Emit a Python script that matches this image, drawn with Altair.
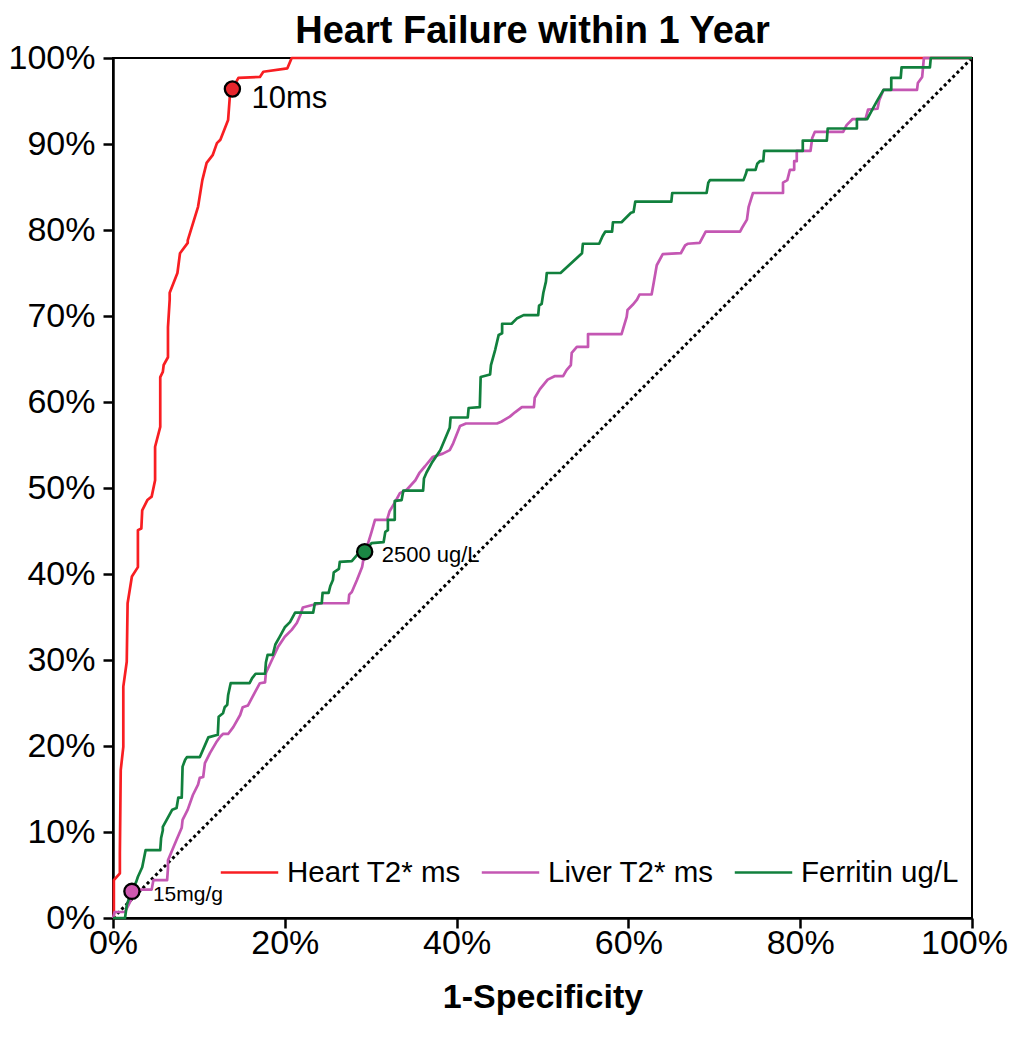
import altair as alt
import pandas as pd

# ---------------- data ----------------
series_names = ["Heart T2* ms", "Liver T2* ms", "Ferritin ug/L"]
series_colors = ["#f81e22", "#c457b3", "#11803d"]

heart_x = [0, 0.1, 0.1, 0.8, 0.8, 0.9, 1.2, 1.2, 1.6, 1.7, 2.2, 2.9, 2.9, 3.3, 3.4,
           4.0, 4.5, 4.9, 4.9, 5.5, 5.5, 5.8, 5.9, 6.4, 6.4, 6.6, 6.6, 7.5, 7.8, 8.7,
           8.7, 9.9, 10.4, 10.9, 11.6, 12.1, 12.5, 13.4, 13.6, 13.9, 14.6, 17.1, 17.5,
           20.3, 20.8, 100]
heart_y = [0, 0, 4.4, 5.2, 7.6, 17.2, 19.9, 26.9, 29.8, 36.6, 39.7, 40.8, 45.1, 45.3,
           47.4, 48.6, 49.0, 50.9, 54.8, 57.1, 62.9, 63.5, 64.3, 65.2, 68.7, 71.9, 72.7,
           75.0, 77.3, 78.5, 78.8, 82.7, 85.8, 87.8, 88.7, 90.1, 90.5, 92.8, 95.5, 96.4,
           97.7, 97.8, 98.4, 98.8, 100, 100]

liver_x = [0, 0.2, 1.4, 2.0, 2.6, 3.1, 4.5, 4.7, 6.3, 6.4, 6.4, 6.9, 7.4, 8.0, 8.1,
           8.7, 9.3, 9.9, 10.1, 10.5, 10.7, 11.3, 12.0, 12.5, 12.8, 13.4, 14.0, 14.8,
           15.1, 15.7, 16.5, 17.1, 17.7, 17.8, 18.5, 19.2, 20.0, 20.8, 21.4, 21.8, 22.1,
           23.2, 24.3, 27.4, 27.5, 27.8, 28.4, 29.0, 29.1, 29.3, 29.7, 30.1, 30.5, 31.9,
           32.2, 32.8, 33.4, 34.2, 35.2, 35.7, 36.3, 37.2, 38.4, 39.2, 39.6, 40.4, 41.1,
           44.7, 45.2, 46.2, 46.8, 47.6, 49.0, 49.1, 49.7, 50.6, 51.4, 52.4, 52.8, 53.3,
           53.4, 54.0, 55.3, 55.3, 59.2, 59.8, 59.9, 60.5, 61.0, 61.3, 62.7, 62.9, 63.3,
           64.0, 66.1, 66.6, 66.9, 68.3, 69.0, 73.0, 73.2, 73.8, 74.0, 74.5, 78.0, 78.0,
           78.5, 78.8, 79.3, 79.3, 79.6, 79.6, 81.2, 81.4, 81.7, 85.0, 85.4, 86.1, 87.6,
           87.9, 89.0, 89.2, 89.7, 93.6, 93.7, 94.2, 94.3, 94.4, 100]
liver_y = [0, 0.7, 0.7, 1.9, 3.0, 3.3, 3.3, 4.4, 4.4, 5.8, 6.7, 7.9, 9.1, 10.5, 11.4,
           12.6, 14.3, 15.5, 16.3, 16.4, 18.0, 19.2, 20.4, 21.1, 21.4, 21.4, 22.2, 23.6,
           24.5, 24.7, 26.2, 27.3, 27.4, 28.5, 30.0, 31.5, 32.7, 33.5, 34.3, 35.2, 36.1,
           36.4, 36.6, 36.6, 37.6, 37.9, 39.3, 40.8, 41.4, 42.6, 43.6, 44.9, 46.3, 46.3,
           47.3, 48.3, 49.4, 49.8, 50.9, 51.8, 52.5, 53.6, 54.0, 54.4, 55.2, 57.2, 57.5,
           57.5, 57.7, 58.3, 58.8, 59.4, 59.4, 60.5, 61.5, 62.6, 63.0, 63.0, 63.7, 64.3,
           65.7, 66.4, 66.4, 67.9, 67.9, 69.9, 70.7, 71.3, 71.9, 72.5, 72.5, 73.6, 75.9,
           77.2, 77.3, 78.2, 78.4, 78.5, 79.8, 79.8, 80.2, 81.2, 82.7, 84.3, 84.3, 85.5,
           85.8, 87.0, 87.0, 88.0, 88.0, 89.2, 89.2, 90.7, 91.4, 91.4, 92.2, 92.9, 92.9,
           94.0, 94.1, 95.1, 96.3, 96.3, 97.1, 97.8, 98.9, 100, 100]

ferritin_x = [0, 1.4, 1.6, 2.1, 2.7, 2.9, 3.4, 3.8, 5.5, 5.6, 5.8, 5.8, 6.9, 7.4, 7.6,
              8.0, 8.1, 8.4, 8.6, 10.1, 11.1, 12.2, 12.3, 12.8, 13.0, 13.3, 13.4, 13.7,
              15.9, 16.2, 16.6, 17.7, 17.8, 18.0, 18.6, 18.9, 19.4, 20.0, 20.6, 21.2,
              23.3, 23.5, 24.3, 24.4, 25.1, 25.3, 25.6, 25.7, 26.3, 26.4, 27.8, 28.4,
              29.3, 30.1, 31.5, 31.7, 32.0, 32.0, 32.8, 32.8, 33.6, 33.8, 36.1, 36.2,
              36.5, 37.1, 38.1, 39.2, 39.3, 41.3, 41.4, 42.7, 42.8, 43.9, 44.0, 44.5,
              44.9, 45.3, 45.3, 46.4, 47.0, 47.8, 49.5, 49.6, 49.9, 50.1, 50.4, 50.5,
              52.1, 54.6, 54.7, 56.6, 57.0, 57.3, 58.1, 58.2, 59.2, 60.3, 60.6, 60.8,
              65.0, 65.1, 69.1, 69.3, 69.5, 73.4, 73.7, 73.8, 74.8, 75.0, 75.3, 75.7,
              75.8, 80.3, 80.3, 83.1, 83.2, 86.6, 86.6, 87.8, 88.5, 89.0, 89.7, 90.6,
              90.6, 91.7, 91.8, 95.1, 95.2, 100]
ferritin_y = [0, 0, 1.5, 3.0, 4.2, 4.8, 5.9, 7.9, 7.9, 9.3, 10.2, 10.6, 12.6, 12.8, 14.0,
              14.0, 17.6, 18.4, 18.7, 18.7, 21.0, 21.3, 23.4, 23.8, 24.5, 24.8, 25.9,
              27.3, 27.3, 27.9, 28.4, 28.4, 29.7, 30.6, 30.6, 31.8, 32.7, 33.8, 34.4,
              35.5, 35.5, 36.6, 36.6, 37.8, 37.8, 38.6, 39.3, 40.2, 40.6, 41.4, 41.5,
              42.2, 42.6, 43.6, 43.7, 44.9, 45.1, 46.3, 46.3, 48.5, 48.6, 49.7, 49.7,
              51.1, 51.8, 52.9, 54.4, 57.0, 58.2, 58.2, 59.3, 59.4, 62.9, 63.2, 64.3,
              66.1, 67.8, 68.0, 69.1, 69.1, 69.7, 70.1, 70.1, 71.2, 71.4, 72.7, 74.0,
              75.0, 75.0, 77.3, 78.4, 78.4, 79.3, 79.8, 79.8, 80.9, 80.9, 82.0, 82.1,
              83.3, 83.3, 84.3, 84.3, 85.5, 85.8, 85.8, 86.6, 87.0, 87.0, 87.7, 88.0,
              88.0, 89.2, 89.2, 90.4, 90.4, 91.8, 91.8, 92.9, 92.9, 94.2, 95.1, 96.3,
              96.3, 97.7, 97.7, 98.9, 98.9, 100, 100]

diag_x = [0, 100]
diag_y = [0, 100]

cut_labels = ["10ms", "15mg/g", "2500 ug/L"]
cut_x = [13.9, 2.2, 29.3]
cut_y = [96.4, 3.1, 42.6]
cut_fill = ["#e8262d", "#cf58b0", "#1a8744"]

axis_ticks_x = [0, 20, 40, 60, 80, 100]
axis_ticks_y = [0, 10, 20, 30, 40, 50, 60, 70, 80, 90, 100]

# ---------------- tables ----------------
rows = []
for name, xs, ys in zip(series_names, [heart_x, liver_x, ferritin_x],
                        [heart_y, liver_y, ferritin_y]):
    for i, (xv, yv) in enumerate(zip(xs, ys)):
        rows.append({"series": name, "fpr": xv, "tpr": yv, "idx": i})
curves = pd.DataFrame(rows)
diag = pd.DataFrame({"fpr": diag_x, "tpr": diag_y})
cuts = pd.DataFrame({"label": cut_labels, "fpr": cut_x, "tpr": cut_y, "fill": cut_fill})

FONT = "Liberation Sans"

xscale = alt.Scale(domain=[0, 100], nice=False, zero=True)
yscale = alt.Scale(domain=[0, 100], nice=False, zero=True)

xaxis = alt.Axis(values=axis_ticks_x, labelExpr="datum.value + '%'", grid=False,
                 title="1-Specificity", titleFont=FONT, titleFontSize=34,
                 titleFontWeight="bold", titleColor="black", titlePadding=20,
                 labelFont=FONT, labelFontSize=34, labelColor="black", labelPadding=-2,
                 labelOffset={"condition": {"test": "datum.value == 100", "value": -8},
                              "value": 0},
                 tickSize=10, tickWidth=2.5, tickColor="black",
                 domainColor="black", domainWidth=2.5, labelFlush=False)
yaxis = alt.Axis(values=axis_ticks_y, labelExpr="datum.value + '%'", grid=False,
                 title=None, labelFont=FONT, labelFontSize=34, labelColor="black",
                 labelPadding=8, tickSize=10, tickWidth=2.5, tickColor="black",
                 domainColor="black", domainWidth=2.5)

color_scale = alt.Scale(domain=series_names, range=series_colors)

diag_layer = alt.Chart(diag).mark_line(
    color="black", strokeWidth=3, strokeDash=[3, 3], strokeCap="butt"
).encode(
    x=alt.X("fpr:Q", scale=xscale, axis=xaxis),
    y=alt.Y("tpr:Q", scale=yscale, axis=yaxis),
)

def curve_layer(name):
    return alt.Chart(curves).transform_filter(
        alt.datum.series == name
    ).mark_line(strokeWidth=2.7, strokeJoin="round").encode(
        x=alt.X("fpr:Q", scale=xscale),
        y=alt.Y("tpr:Q", scale=yscale),
        order=alt.Order("idx:Q"),
        color=alt.Color(
            "series:N", scale=color_scale,
            legend=alt.Legend(
                title=None, orient="none", legendX=106, legendY=784,
                direction="horizontal", symbolType="stroke", symbolSize=3300,
                symbolStrokeWidth=2.7, labelFont=FONT, labelFontSize=29.5,
                labelColor="black", labelOffset=7, columnPadding=15, padding=0,
                labelLimit=400,
            ),
        ),
    )

points = alt.Chart(cuts).mark_point(
    filled=True, size=230, stroke="black", strokeWidth=2.3, opacity=1
).encode(
    x=alt.X("fpr:Q", scale=xscale),
    y=alt.Y("tpr:Q", scale=yscale),
    fill=alt.Fill("fill:N", scale=None),
)

def label_layer(label, size, dx, dy):
    return alt.Chart(cuts).transform_filter(
        alt.datum.label == label
    ).mark_text(
        font=FONT, fontSize=size, align="left", baseline="alphabetic",
        dx=dx, dy=dy, color="black"
    ).encode(
        x=alt.X("fpr:Q", scale=xscale),
        y=alt.Y("tpr:Q", scale=yscale),
        text="label:N",
    )

chart = alt.layer(
    diag_layer,
    curve_layer("Heart T2* ms"),
    curve_layer("Liver T2* ms"),
    curve_layer("Ferritin ug/L"),
    points,
    label_layer("10ms", 31, 19, 19),
    label_layer("15mg/g", 21, 21, 10),
    label_layer("2500 ug/L", 22, 17, 10),
).properties(
    width=859,
    height=860,
    autosize=alt.AutoSizeParams(type="none"),
    padding={"left": 105, "top": 50, "right": 36, "bottom": 110},
    title=alt.TitleParams(
        "Heart Failure within 1 Year", font=FONT, fontSize=38, fontWeight="bold",
        color="black", anchor="middle", frame="group", offset=-10, dx=-10,
    ),
).configure(
    background="white"
).configure_view(
    stroke="black", strokeWidth=2
)

chart.save("out.html", embed_options={"renderer": "svg", "actions": False})
